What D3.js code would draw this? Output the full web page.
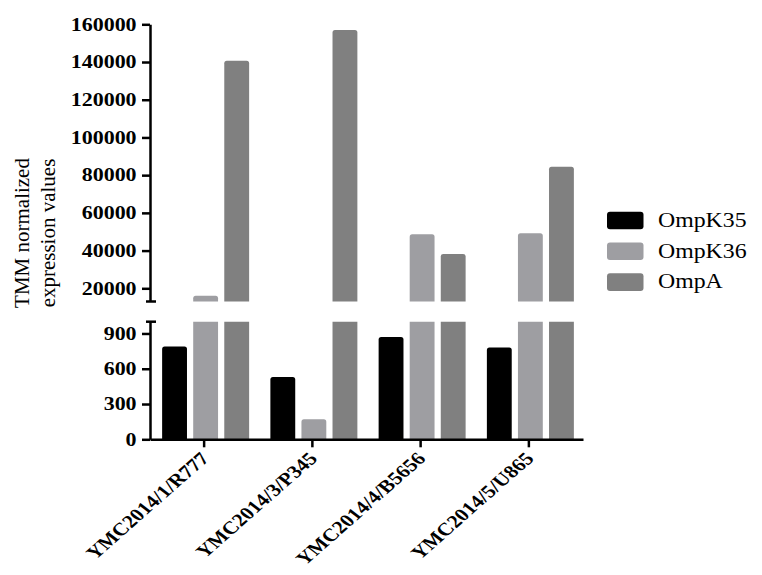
<!DOCTYPE html>
<html>
<head>
<meta charset="utf-8">
<script src="https://cdn.jsdelivr.net/npm/d3@7"></script>
<style>
  body { margin: 0; background: #fff; }
  svg { display: block; }
  text { font-family: "Liberation Serif", "Times New Roman", serif; fill: #000; }
</style>
</head>
<body>
<svg width="762" height="575"></svg>
<script>
// values
var categories = ["YMC2014/1/R777", "YMC2014/3/P345", "YMC2014/4/B5656", "YMC2014/5/U865"];
var seriesNames = ["OmpK35", "OmpK36", "OmpA"];
var ompK35 = [790, 530, 870, 780];
var ompK36 = [16000, 170, 48600, 49200];
var ompA = [140700, 157000, 38200, 84500];
var colors = ["#000000", "#9e9ea2", "#808080"];
var topTicks = [20000, 40000, 60000, 80000, 100000, 120000, 140000, 160000];
var bottomTicks = [0, 300, 600, 900];

var series = [ompK35, ompK36, ompA];
var stretch = 1.22; // the source picture is widened horizontally

var svg = d3.select("svg");

var axisX = 150;
var x = d3.scaleBand().domain(categories).range([axisX, 583]).padding(0);
var inner = d3.scaleBand().domain(seriesNames).range([-42, 45]).paddingInner(0.2);

var yTop = d3.scaleLinear().domain([13000, 160000]).range([301.5, 24.3]);
var yBot = d3.scaleLinear().domain([0, 1000]).range([439.3, 321.7]);

// bar pieces: bottom segment 0..1000, top segment 13000..value
function barPath(x0, w, yb, yt, round) {
  var r = round ? Math.min(2.5, (yb - yt) / 2) : 0;
  return "M" + x0 + "," + yb +
    "V" + (yt + r) +
    "Q" + x0 + "," + yt + " " + (x0 + r) + "," + yt +
    "H" + (x0 + w - r) +
    "Q" + (x0 + w) + "," + yt + " " + (x0 + w) + "," + (yt + r) +
    "V" + yb + "Z";
}

var pieces = [];
series.forEach(function (vals, si) {
  vals.forEach(function (v, ci) {
    var bx = x(categories[ci]) + x.bandwidth() / 2 + inner(seriesNames[si]);
    var w = inner.bandwidth();
    if (v <= 1000) {
      pieces.push({ d: barPath(bx, w, yBot(0), yBot(v), true), c: colors[si] });
    } else {
      pieces.push({ d: barPath(bx, w, yBot(0), yBot(1000), false), c: colors[si] });
      pieces.push({ d: barPath(bx, w, yTop(13000), yTop(v), true), c: colors[si] });
    }
  });
});

svg.append("g").selectAll("path")
  .data(pieces)
  .enter().append("path")
    .attr("d", function (d) { return d.d; })
    .attr("fill", function (d) { return d.c; });

function styleAxis(g) {
  g.select(".domain").attr("stroke-width", 2.5);
  g.selectAll(".tick line").attr("stroke-width", 2.5);
  g.selectAll(".tick text")
    .attr("font-size", 18)
    .attr("font-weight", "bold")
    .attr("font-family", "Liberation Serif, Times New Roman, serif");
}

var gTop = svg.append("g")
  .attr("transform", "translate(" + axisX + ",0)")
  .call(d3.axisLeft(yTop).tickValues(topTicks).tickSize(8).tickSizeOuter(0).tickPadding(3).tickFormat(d3.format("d")));
styleAxis(gTop);
gTop.selectAll(".tick text")
  .attr("x", -11)
  .attr("transform", "scale(" + stretch + ",1)");

var gBot = svg.append("g")
  .attr("transform", "translate(" + axisX + ",0)")
  .call(d3.axisLeft(yBot).tickValues(bottomTicks).tickSize(8).tickSizeOuter(0).tickFormat(d3.format("d")));
styleAxis(gBot);
gBot.selectAll(".tick text")
  .attr("x", -11)
  .attr("transform", "scale(" + stretch + ",1)");

// caps at the axis break
[yTop(13000), yBot(1000)].forEach(function (yy) {
  svg.append("line")
    .attr("x1", axisX - 4).attr("x2", axisX + 6)
    .attr("y1", yy).attr("y2", yy)
    .attr("stroke", "#000").attr("stroke-width", 2.5);
});

var gX = svg.append("g")
  .attr("transform", "translate(0," + yBot(0) + ")")
  .call(d3.axisBottom(x).tickSize(8).tickSizeOuter(0));
gX.select(".domain").attr("stroke-width", 2.5);
gX.selectAll(".tick line").attr("stroke-width", 2.5);
gX.selectAll(".tick text")
  .attr("font-size", 18)
  .attr("font-weight", "bold")
  .attr("font-family", "Liberation Serif, Times New Roman, serif")
  .attr("text-anchor", "end")
  .attr("x", 0).attr("y", 0).attr("dy", 0)
  .attr("transform", "translate(6,20) scale(" + stretch + ",1) rotate(-47)");

// y title
var title = svg.append("text")
  .attr("transform", "translate(0,233) rotate(-90)")
  .attr("text-anchor", "middle")
  .attr("font-size", 21);
title.append("tspan").attr("x", 0).attr("y", 29).text("TMM normalized");
title.append("tspan").attr("x", 0).attr("y", 55).text("expression values");

// legend
var legend = svg.append("g").selectAll("g")
  .data(seriesNames)
  .enter().append("g")
    .attr("transform", function (d, i) { return "translate(607," + (211.7 + i * 30.8) + ")"; });
legend.append("rect")
  .attr("width", 36.5).attr("height", 17.6)
  .attr("rx", 3)
  .attr("fill", function (d, i) { return colors[i]; });
legend.append("text")
  .attr("transform", "translate(51,15) scale(1.19,1)")
  .attr("font-size", 20)
  .text(function (d) { return d; });
</script>
</body>
</html>
